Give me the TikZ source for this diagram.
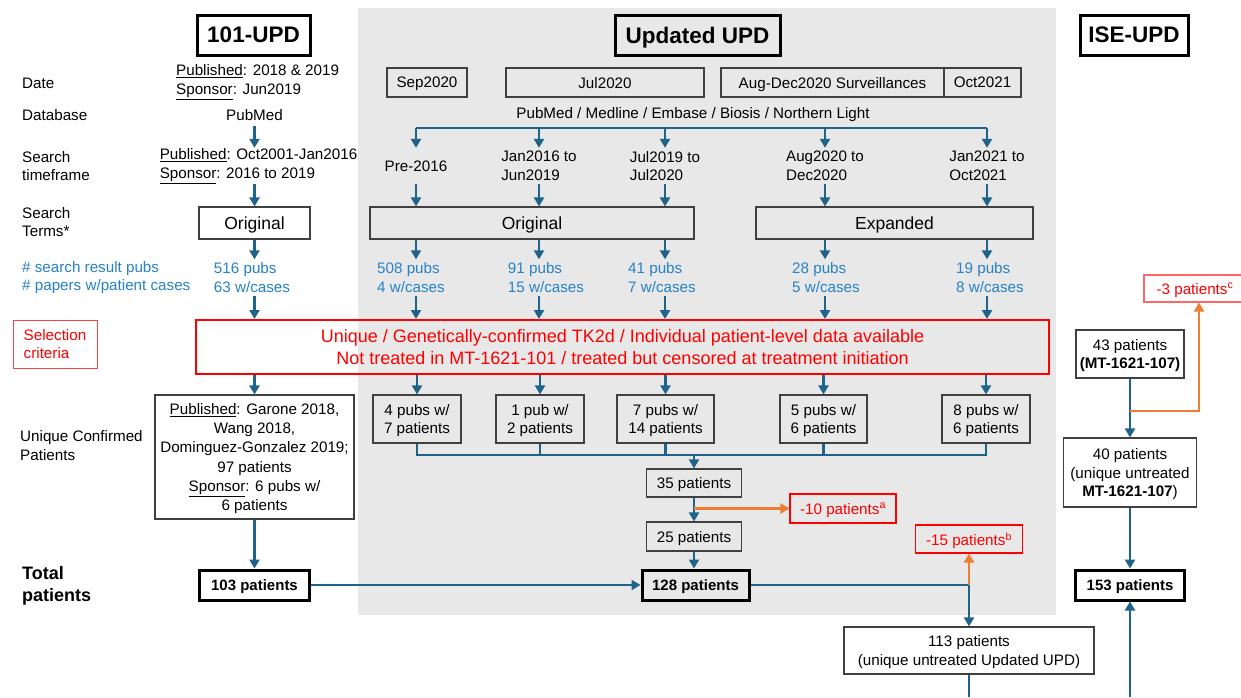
\documentclass[tikz,border=0pt]{standalone}
\usepackage{fontspec}
\setmainfont{Liberation Sans}
\usetikzlibrary{arrows.meta}
\definecolor{flowblue}{RGB}{31,99,138}
\definecolor{cutorange}{RGB}{237,125,49}
\definecolor{countblue}{RGB}{38,130,200}
\definecolor{bggray}{RGB}{232,232,232}
\tikzset{
  box/.style={draw=black!75,line width=1.1pt,align=center,inner sep=0pt,text depth=0pt},
  total/.style={draw=black,line width=3pt,inner sep=0pt,text depth=0pt,font=\fontsize{15}{18}\selectfont\bfseries},
  title/.style={draw=black,line width=3pt,inner sep=0pt,text depth=0pt,font=\fontsize{22.5}{26}\selectfont\bfseries},
  redbox/.style={draw=red,line width=1.1pt,text=red,align=center,inner sep=0pt,text depth=0pt},
  rowlabel/.style={anchor=west,align=left,inner sep=0pt},
  span/.style={align=left,minimum height=36pt,inner sep=0pt},
  count/.style={text=countblue,align=left,minimum height=36pt,inner sep=0pt},
  link/.style={draw=flowblue,line width=2.2pt},
  flow/.style={draw=flowblue,line width=2.2pt,-{Triangle[length=9pt,width=10pt]}},
  cut/.style={draw=cutorange,line width=2.2pt,-{Triangle[length=9pt,width=10pt]}}
}
\begin{document}
\begin{tikzpicture}[x=1pt,y=-1pt,every node/.style={font=\fontsize{15.2}{18.5}\selectfont}]
\useasboundingbox (0,0) rectangle (1241,697);
\fill[bggray] (358,8) rectangle (1056,615);

% titles
\node[title,minimum width=113,minimum height=40] (t101) at (253.5,35) {101-UPD};
\node[title,minimum width=165,minimum height=40] (tupd) at (697.5,35) {Updated UPD};
\node[title,minimum width=108,minimum height=40] (tise) at (1134,35) {ISE-UPD};

% row labels
\node[rowlabel] (lDate) at (22,83) {Date};
\node[rowlabel] (lDb) at (22,115) {Database};
\node[rowlabel] (lTime) at (22,166) {Search\\timeframe};
\node[rowlabel] (lTerms) at (22,222) {Search\\Terms*};
\node[rowlabel,text=countblue] (lCount) at (22,277.5) {\# search result pubs\\\# papers w/patient cases};
\node[redbox,minimum width=84,minimum height=48,align=left,line width=1pt,draw=red!75] (lSel) at (55,344) {Selection\\criteria};
\node[rowlabel] (lUniq) at (20,445.5) {Unique Confirmed\\Patients};
\node[rowlabel,font=\fontsize{18}{22}\selectfont\bfseries] (lTotal) at (22,586) {Total\\patients};

% 101-UPD column
\node[anchor=west,align=left,inner sep=0pt] (d101) at (176,82) {\underline{Published}: 2018 \& 2019\\\underline{Sponsor}: Jun2019};
\node[inner sep=0pt] (db101) at (254.5,115) {PubMed};
\node[span] (tf101) at (258.5,166) {\underline{Published}: Oct2001-Jan2016\\\underline{Sponsor}: 2016 to 2019};
\node[box,minimum width=111,minimum height=32,font=\fontsize{17.5}{20}\selectfont] (or101) at (254.5,223) {Original};
\node[count] (n101) at (252,277.5) {516 pubs\\63 w/cases};
\node[box,minimum width=199,minimum height=124,font=\fontsize{15.2}{19.2}\selectfont] (u101) at (254.5,457) {\underline{Published}: Garone 2018,\\Wang 2018,\\Dominguez-Gonzalez 2019;\\97 patients\\\underline{Sponsor}: 6 pubs w/\\6 patients};
\node[total,minimum width=110,minimum height=30] (tot101) at (254.5,585) {103 patients};

% selection criteria
\node[redbox,line width=2pt,minimum width=853,minimum height=54,font=\fontsize{18}{22}\selectfont] (sel) at (622.5,347) {Unique / Genetically-confirmed TK2d / Individual patient-level data available\\Not treated in MT-1621-101 / treated but censored at treatment initiation};

% Updated UPD column
\node[box,minimum width=80,minimum height=29] (dSep) at (427,82.5) {Sep2020};
\node[box,minimum width=198,minimum height=29] (dJul) at (605,82.5) {Jul2020};
\node[box,minimum width=223,minimum height=29] (dAug) at (832.5,82.5) {Aug-Dec2020 Surveillances};
\node[box,minimum width=77,minimum height=29] (dOct) at (982.5,82.5) {Oct2021};
\node[inner sep=0pt] (dbUpd) at (693,115) {PubMed / Medline / Embase / Biosis / Northern Light};
\coordinate (bar) at (416,128);

\node[span] (tf1) at (416,166) {Pre-2016};
\node[span] (tf2) at (539,166) {Jan2016 to\\Jun2019};
\node[span] (tf3) at (665,166) {Jul2019 to\\Jul2020};
\node[span] (tf4) at (825,166) {Aug2020 to\\Dec2020};
\node[span] (tf5) at (987,166) {Jan2021 to\\Oct2021};

\node[box,minimum width=324,minimum height=32,font=\fontsize{17.5}{20}\selectfont] (orig) at (532,223) {Original};
\node[box,minimum width=277,minimum height=32,font=\fontsize{17.5}{20}\selectfont] (expd) at (894.5,223) {Expanded};

\node[count] (n1) at (411,277.5) {508 pubs\\4 w/cases};
\node[count] (n2) at (546,277.5) {91 pubs\\15 w/cases};
\node[count] (n3) at (662,277.5) {41 pubs\\7 w/cases};
\node[count] (n4) at (826,277.5) {28 pubs\\5 w/cases};
\node[count] (n5) at (990,277.5) {19 pubs\\8 w/cases};

\node[box,minimum width=88,minimum height=48] (b1) at (417,419) {4 pubs w/\\7 patients};
\node[box,minimum width=88,minimum height=48] (b2) at (540,419) {1 pub w/\\2 patients};
\node[box,minimum width=97,minimum height=48] (b3) at (665.5,419) {7 pubs w/\\14 patients};
\node[box,minimum width=87,minimum height=48] (b4) at (823.5,419) {5 pubs w/\\6 patients};
\node[box,minimum width=88,minimum height=48] (b5) at (986,419) {8 pubs w/\\6 patients};
\coordinate (mrg) at (694,455);

\node[box,minimum width=95,minimum height=28] (p35) at (694,483) {35 patients};
\node[redbox,minimum width=106,minimum height=29] (m10) at (843,508.5) {-10 patients\textsuperscript{a}};
\node[box,minimum width=95,minimum height=29] (p25) at (694,536.5) {25 patients};
\node[total,minimum width=107,minimum height=30] (p128) at (695.5,585) {128 patients};
\node[redbox,minimum width=107,minimum height=28] (m15) at (969,539) {-15 patients\textsuperscript{b}};
\node[box,minimum width=250,minimum height=47] (p113) at (969,650.5) {113 patients\\(unique untreated Updated UPD)};
\coordinate (bot113) at (969,697);

% ISE-UPD column
\node[redbox,draw=red!60,minimum width=110,minimum height=27] (m3) at (1199,288.5) {-3 patients\textsuperscript{c}\hspace{8pt}};
\node[box,minimum width=108,minimum height=48] (p43) at (1130,354) {43 patients\\\textbf{(MT-1621-107)}};
\coordinate (sp107) at (1130,411);
\node[box,minimum width=133,minimum height=69] (p40) at (1130,472.5) {40 patients\\(unique untreated\\\textbf{MT-1621-107})};
\node[total,minimum width=109,minimum height=30] (p153) at (1130,585) {153 patients};
\coordinate (bot153) at (1130,697);

% 101-UPD arrows
\draw[flow,shorten <=5pt] (db101.south) -- (db101.south |- tf101.north);
\draw[flow] (or101.north |- tf101.south) -- (or101.north);
\draw[flow] (or101.south) -- (or101.south |- n101.north);
\draw[flow] (or101.south |- n101.south) -- (or101.south |- sel.north);
\draw[flow] (u101.north |- sel.south) -- (u101.north);
\draw[flow] (u101.south) -- (tot101.north);
\draw[flow] (tot101.east) -- (p128.west);

% Updated UPD arrows
\draw[link] (bar) -- (bar -| tf5.north);
\draw[flow] (bar) -- (tf1.north);
\draw[flow] (bar -| tf2.north) -- (tf2.north);
\draw[flow] (bar -| tf3.north) -- (tf3.north);
\draw[flow] (bar -| tf4.north) -- (tf4.north);
\draw[flow] (bar -| tf5.north) -- (tf5.north);
\draw[flow] (tf1.south) -- (tf1.south |- orig.north);
\draw[flow] (tf2.south) -- (tf2.south |- orig.north);
\draw[flow] (tf3.south) -- (tf3.south |- orig.north);
\draw[flow] (tf4.south) -- (tf4.south |- expd.north);
\draw[flow] (tf5.south) -- (tf5.south |- expd.north);
\draw[flow] (tf1.south |- orig.south) -- (tf1.south |- n1.north);
\draw[flow] (tf2.south |- orig.south) -- (tf2.south |- n2.north);
\draw[flow] (tf3.south |- orig.south) -- (tf3.south |- n3.north);
\draw[flow] (tf4.south |- expd.south) -- (tf4.south |- n4.north);
\draw[flow] (tf5.south |- expd.south) -- (tf5.south |- n5.north);
\draw[flow] (tf1.south |- n1.south) -- (tf1.south |- sel.north);
\draw[flow] (tf2.south |- n2.south) -- (tf2.south |- sel.north);
\draw[flow] (tf3.south |- n3.south) -- (tf3.south |- sel.north);
\draw[flow] (tf4.south |- n4.south) -- (tf4.south |- sel.north);
\draw[flow] (tf5.south |- n5.south) -- (tf5.south |- sel.north);
\draw[flow] (b1.north |- sel.south) -- (b1.north);
\draw[flow] (b2.north |- sel.south) -- (b2.north);
\draw[flow] (b3.north |- sel.south) -- (b3.north);
\draw[flow] (b4.north |- sel.south) -- (b4.north);
\draw[flow] (b5.north |- sel.south) -- (b5.north);
\draw[link] (b1.south) |- (mrg) -| (b5.south);
\draw[link] (b2.south) -- (b2.south |- mrg);
\draw[link] (b3.south) -- (b3.south |- mrg);
\draw[link] (b4.south) -- (b4.south |- mrg);
\draw[flow] (mrg) -- (p35.north);
\draw[flow] (p35.south) -- (p25.north);
\draw[cut] (p35.south |- m10.west) -- (m10.west);
\draw[flow] (p25.south) -- (p25.south |- p128.north);
\draw[flow] (p128.east) -| (p113.north);
\draw[cut] (p113.north |- p128.east) -- (m15.south);
\draw[link] (p113.south) -- (bot113);

% ISE-UPD arrows
\draw[flow] (p43.south) -- (p40.north);
\draw[cut] (sp107) -| (m3.south);
\draw[flow] (p40.south) -- (p153.north);
\draw[flow] (bot153) -- (p153.south);
\end{tikzpicture}
\end{document}
